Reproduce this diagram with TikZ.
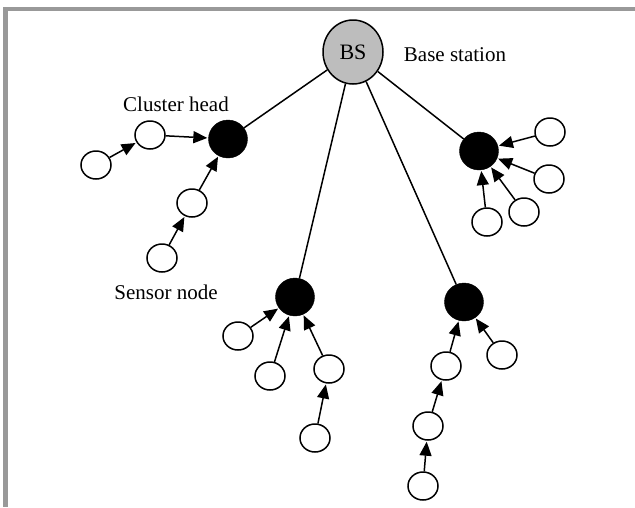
\documentclass[tikz,border=0pt]{standalone}
\usepackage{fontspec}
\setmainfont{Liberation Serif}
\usetikzlibrary{shapes.geometric,arrows.meta}
\begin{document}
\begin{tikzpicture}[x=1pt,y=-1pt,
  sensor/.style={draw=black,fill=white,ellipse,line width=1.5pt,inner sep=0pt,minimum width=30pt,minimum height=28pt},
  chead/.style={draw=black,fill=black,ellipse,inner sep=0pt,minimum width=39pt,minimum height=38pt},
  base/.style={draw=black,fill=bsgray,ellipse,line width=1.5pt,inner sep=0pt,minimum width=60pt,minimum height=64pt,font=\fontsize{22}{26}\selectfont},
  lbl/.style={font=\fontsize{21}{25}\selectfont,inner sep=0pt},
  link/.style={line width=1.5pt},
  flow/.style={line width=1.5pt,-{Triangle[length=14pt,width=12pt]},shorten >=1pt}]
\definecolor{bsgray}{HTML}{BDBDBD}
\definecolor{framegray}{HTML}{999999}
\useasboundingbox (0,0) rectangle (635,507);
\fill[framegray] (3,7) rectangle (635,11);
\fill[framegray] (3,7) rectangle (8,507);

\node[base] (bs) at (353,52) {BS};
\node[lbl] (bslbl) at (455,55) {Base station};
\node[lbl] (chlbl) at (176,104) {Cluster head};
\node[lbl] (snlbl) at (166,292) {Sensor node};

\node[chead] (ch1) at (228,139) {};
\node[chead] (ch2) at (479,151) {};
\node[chead] (ch3) at (295,297) {};
\node[chead] (ch4) at (464,302) {};

\node[sensor] (a1) at (150,135) {};
\node[sensor] (a2) at (96,165) {};
\node[sensor] (a3) at (192,203) {};
\node[sensor] (a4) at (162,258) {};

\node[sensor] (b1) at (550,132) {};
\node[sensor] (b2) at (549,179) {};
\node[sensor] (b3) at (524,212) {};
\node[sensor] (b4) at (487,222) {};

\node[sensor] (c1) at (238,336) {};
\node[sensor] (c2) at (270,376) {};
\node[sensor] (c3) at (329,369) {};
\node[sensor] (c4) at (315,438) {};

\node[sensor] (d1) at (502,355) {};
\node[sensor] (d2) at (446,366) {};
\node[sensor] (d3) at (428,426) {};
\node[sensor] (d4) at (423,486) {};

\draw[link] (bs) -- (ch1);
\draw[link] (bs) -- (ch2);
\draw[link] (bs) -- (ch3);
\draw[link] (bs) -- (ch4);

\draw[flow] (a2) -- (a1);
\draw[flow] (a1) -- (ch1);
\draw[flow] (a4) -- (a3);
\draw[flow] (a3) -- (ch1);

\draw[flow] (b1) -- (ch2);
\draw[flow] (b2) -- (ch2);
\draw[flow] (b3) -- (ch2);
\draw[flow] (b4) -- (ch2);

\draw[flow] (c1) -- (ch3);
\draw[flow] (c2) -- (ch3);
\draw[flow] (c3) -- (ch3);
\draw[flow] (c4) -- (c3);

\draw[flow] (d1) -- (ch4);
\draw[flow] (d2) -- (ch4);
\draw[flow] (d3) -- (d2);
\draw[flow] (d4) -- (d3);
\end{tikzpicture}
\end{document}
